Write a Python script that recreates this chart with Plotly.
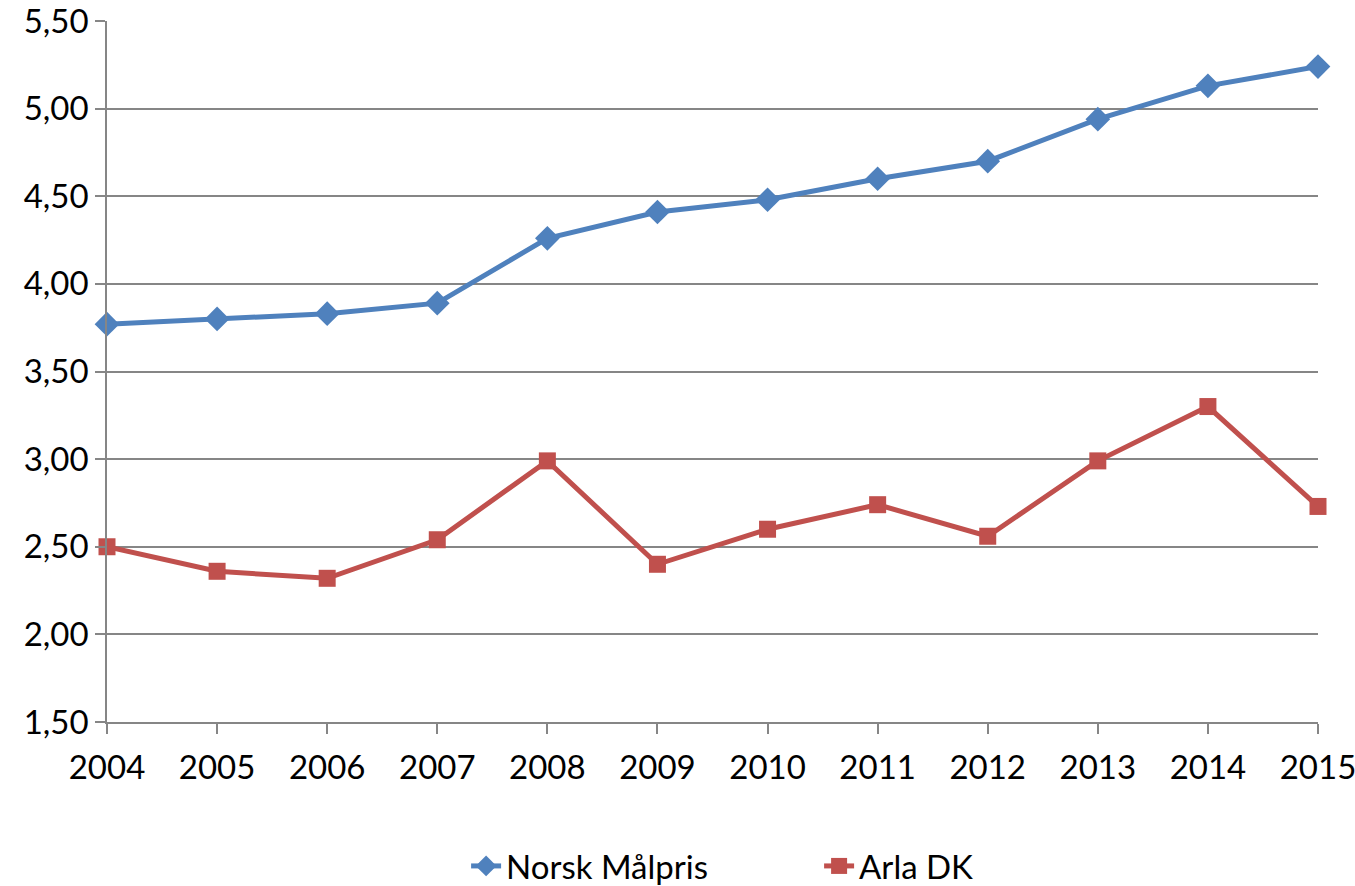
import plotly.graph_objects as go

# --------------------------------------------------
# DATA
# --------------------------------------------------

years = [2004, 2005, 2006, 2007, 2008, 2009, 2010, 2011, 2012, 2013, 2014, 2015]

norsk_malpris = [3.77, 3.80, 3.83, 3.89, 4.26, 4.41, 4.48, 4.60, 4.70, 4.94, 5.13, 5.24]

arla_dk = [2.50, 2.36, 2.32, 2.54, 2.99, 2.40, 2.60, 2.74, 2.56, 2.99, 3.30, 2.73]

y_ticks = [1.5, 2.0, 2.5, 3.0, 3.5, 4.0, 4.5, 5.0, 5.5]

# --------------------------------------------------
# FIGURE
# --------------------------------------------------

FONT = "Lato, Open Sans, sans-serif"
GRID = "#868686"
FS = 33

fig = go.Figure()

fig.add_trace(
    go.Scatter(
        x=years,
        y=norsk_malpris,
        name="Norsk Målpris",
        mode="lines+markers",
        line=dict(color="#4F81BD", width=5),
        marker=dict(symbol="diamond", size=19, color="#4F81BD"),
        cliponaxis=False
    )
)

fig.add_trace(
    go.Scatter(
        x=years,
        y=arla_dk,
        name="Arla DK",
        mode="lines+markers",
        line=dict(color="#C0504D", width=5),
        marker=dict(symbol="square", size=17, color="#C0504D"),
        cliponaxis=False
    )
)

fig.update_layout(
    width=1355,
    height=886,
    template="plotly_white",
    paper_bgcolor="white",
    plot_bgcolor="white",
    separators=",.",
    font=dict(family=FONT, size=FS, color="black"),
    margin=dict(l=107, r=37, t=21, b=164),
    legend=dict(
        orientation="h",
        xref="container",
        yref="container",
        x=0.6045,
        xanchor="center",
        y=0.0226,
        yanchor="middle",
        font=dict(size=FS),
        entrywidth=308,
        traceorder="normal"
    ),
    xaxis=dict(
        range=[2004, 2015],
        tickvals=years,
        ticktext=[str(y) for y in years],
        automargin=False,
        ticklabeloverflow="allow",
        showgrid=False,
        zeroline=False,
        showline=True,
        linecolor=GRID,
        linewidth=1.5,
        ticks="outside",
        ticklen=10,
        tickcolor=GRID,
        tickwidth=1.5,
        ticklabelstandoff=6,
        tickfont=dict(size=FS)
    ),
    yaxis=dict(
        range=[1.5, 5.5],
        tickvals=y_ticks,
        tickformat=".2f",
        automargin=False,
        ticklabeloverflow="allow",
        showgrid=True,
        gridcolor=GRID,
        gridwidth=1.5,
        zeroline=False,
        showline=True,
        linecolor=GRID,
        linewidth=1.5,
        ticks="outside",
        ticklen=10,
        tickcolor=GRID,
        tickwidth=1.5,
        tickfont=dict(size=FS)
    )
)

# drop the default body margin so the figure sits at the page corner
fig.write_html(
    "out.html",
    config={"displayModeBar": False},
    post_script="document.body.style.margin='0';document.body.style.overflow='hidden';"
)
